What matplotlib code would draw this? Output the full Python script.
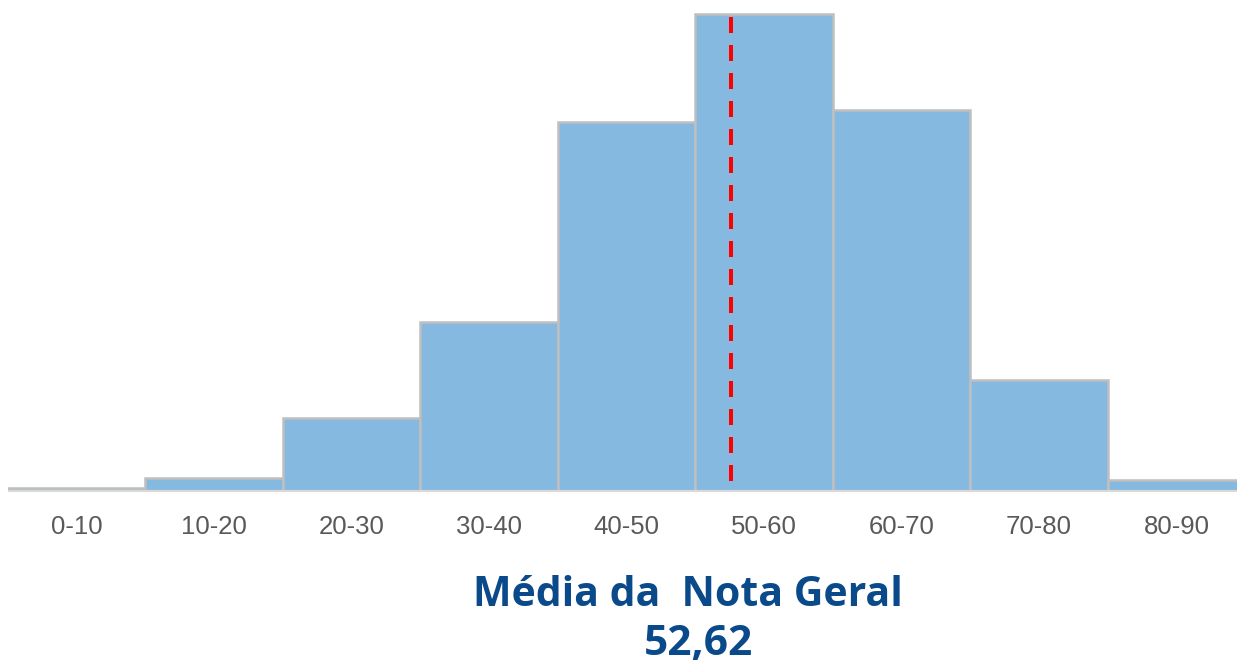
import numpy as np
import matplotlib
matplotlib.use("Agg")
import matplotlib.pyplot as plt

# Faixas de nota e alturas relativas das barras
faixas = ["0-10", "10-20", "20-30", "30-40", "40-50", "50-60", "60-70", "70-80", "80-90"]
contagens = [4, 14, 74, 170, 370, 478, 382, 112, 12]
media = 52.62
titulo = "Média da  Nota Geral"
valor_media = "52,62"

W, H = 1237, 665
fig = plt.figure(figsize=(W / 100, H / 100), dpi=100)

# Eixo: px 8..1237 na horizontal, base da barra em y=492 px
esq = 8 / W
base = (H - 492) / H
ax = fig.add_axes([esq, base, 1 - esq, 1 - base])

inicio = np.arange(len(faixas)) * 10
ax.bar(inicio, contagens, width=10, align="edge", color="#85b9df",
       edgecolor="#bfbfbf", linewidth=1.8, zorder=2)

ax.set_xlim(0, 89.4)
ax.set_ylim(0, 492)
ax.axis("off")

# linha de base
ax.axhline(0, color="#d9d9d9", linewidth=3, zorder=3)

# linha da média (de cima para baixo, para o traço começar no topo)
ax.plot([media, media], [475, 10], color="#ff0000", linewidth=2.88,
        dashes=(4, 3), solid_capstyle="butt", dash_capstyle="butt", zorder=4)

# rótulos das faixas
for x, rotulo in zip(inicio + 5, faixas):
    ax.text(x, -35, rotulo, ha="center", va="center", fontsize=18.5,
            color="#595959", family="Liberation Sans")

fig.text(688 / W, 1 - 595 / H, titulo, ha="center", va="center",
         fontsize=29.5, fontweight="bold", color="#0b4a8a", family="Open Sans")
fig.text(698 / W, 1 - 645 / H, valor_media, ha="center", va="center",
         fontsize=30.5, fontweight="bold", color="#0b4a8a", family="Open Sans")

fig.savefig("out.png", dpi=100)
